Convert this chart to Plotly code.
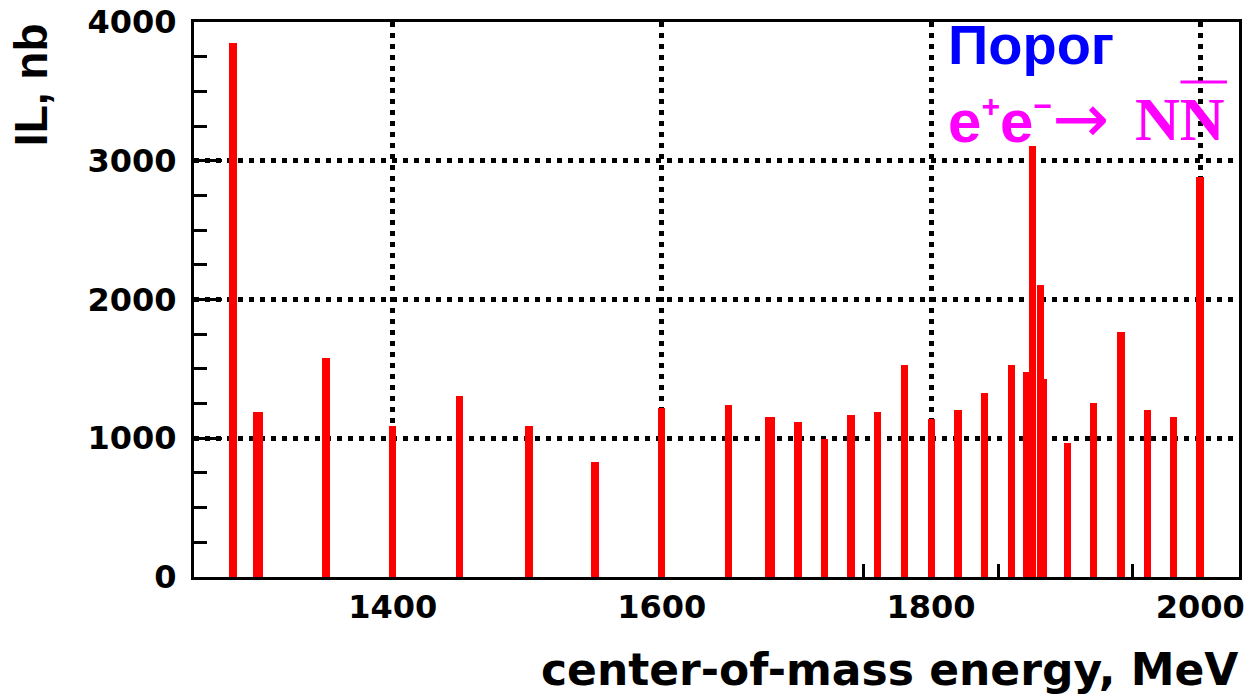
import plotly.graph_objects as go

# ---- data ----
energy_mev = [1281.4, 1300.0, 1350.3, 1399.8, 1449.6, 1501.1, 1550.3, 1599.9,
              1649.5, 1680.3, 1701.1, 1720.8, 1740.7, 1760.2, 1780.2, 1800.2,
              1820.0, 1839.8, 1859.6, 1870.8, 1875.3, 1883.5, 1881.3, 1901.3,
              1920.8, 1941.3, 1960.8, 1980.2, 2000.0]
integrated_lumi_nb = [3847, 1189, 1576, 1086, 1304, 1086, 829, 1221,
                      1240, 1153, 1120, 995, 1170, 1187, 1525, 1137,
                      1206, 1324, 1525, 1477, 3108, 1424, 2106, 969,
                      1257, 1765, 1206, 1153, 2885]
x_tick_vals = [1400, 1600, 1800, 2000]
y_tick_vals = [0, 1000, 2000, 3000, 4000]

# ---- style ----
NARROW = 5.6
WIDE = 7.8
wide_points = {1300.0, 1680.3}
bar_widths = [WIDE if e in wide_points else NARROW for e in energy_mev]

tick_font = dict(family="DejaVu Sans", size=32, color="black", weight="bold")

fig = go.Figure()
fig.add_trace(go.Bar(
    x=energy_mev, y=integrated_lumi_nb, width=bar_widths,
    marker=dict(color="#ff0000", line=dict(width=0)),
    showlegend=False,
))

grid_dash = "5px,6px"
fig.update_layout(
    width=1251, height=696,
    margin=dict(l=194, r=12, t=22, b=119, autoexpand=False),
    paper_bgcolor="white", plot_bgcolor="white",
    bargap=0,
    xaxis=dict(
        range=[1252.4, 2028.8], tickvals=x_tick_vals, automargin=False,
        ticks="inside", ticklen=26, tickwidth=3, tickcolor="black",
        showline=True, linewidth=3, linecolor="black", mirror=True,
        showgrid=True, gridcolor="black", gridwidth=5, griddash=grid_dash,
        zeroline=False, tickfont=tick_font, layer="below traces",
        minor=dict(ticks="inside", ticklen=13, tickwidth=3, tickcolor="black",
                   dtick=50, tick0=0, showgrid=False),
    ),
    yaxis=dict(
        range=[0, 4000], tickvals=y_tick_vals, automargin=False,
        ticks="inside", ticklen=28, tickwidth=3, tickcolor="black",
        showline=True, linewidth=3, linecolor="black", mirror=True,
        showgrid=True, gridcolor="black", gridwidth=5, griddash=grid_dash,
        zeroline=False, tickfont=tick_font, layer="below traces",
        ticklabelstandoff=8,
        minor=dict(ticks="inside", ticklen=13, tickwidth=3, tickcolor="black",
                   dtick=250, tick0=0, showgrid=False),
    ),
)

# axis titles (ROOT style: right/top aligned)
fig.add_annotation(
    text="center-of-mass energy, MeV", xref="paper", yref="paper",
    x=1.001, y=-0.166, xanchor="right", yanchor="middle", showarrow=False,
    font=dict(family="DejaVu Sans", size=44, color="black", weight="bold"),
)
fig.add_annotation(
    text="IL, nb", xref="paper", yref="paper", textangle=-90,
    x=-0.156, y=0.888, xanchor="center", yanchor="middle", showarrow=False,
    font=dict(family="Liberation Sans", size=46, color="black", weight="bold"),
)

# threshold labels
fig.add_annotation(
    text="Порог", xref="paper", yref="paper",
    x=0.720, y=0.959, xanchor="left", yanchor="middle", showarrow=False,
    font=dict(family="Liberation Sans", size=56, color="#0000ff", weight="bold"),
)
fig.add_annotation(
    text=("e<sup><span style='font-size:32px'>+</span></sup>"
          "e<sup><span style='font-size:32px'>−</span></sup>"
          "<span style='font-family:DejaVu Sans;font-weight:normal;font-size:68px'>→</span>"),
    xref="paper", yref="paper",
    x=0.720, y=0.826, xanchor="left", yanchor="middle", showarrow=False,
    font=dict(family="Liberation Sans", size=60, color="#ff00ff", weight="bold"),
)
fig.add_annotation(
    text="NN", xref="paper", yref="paper",
    x=0.899, y=0.825, xanchor="left", yanchor="middle", showarrow=False,
    font=dict(family="Liberation Serif", size=62, color="#ff00ff", weight="bold"),
)
fig.add_shape(type="line", xref="paper", yref="paper",
              x0=0.944, x1=0.9885, y0=0.892, y1=0.892,
              line=dict(color="#ff00ff", width=3))

fig.write_html("out.html")
